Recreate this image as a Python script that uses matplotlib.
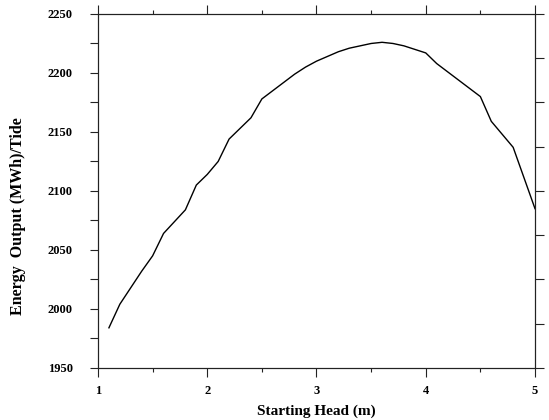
import numpy as np
import matplotlib.pyplot as plt
from matplotlib.ticker import MultipleLocator

# starting head (m) vs energy output per tide (MWh)
head = [1.1, 1.2, 1.3, 1.4, 1.5, 1.6, 1.7, 1.8, 1.9, 2.0,
        2.1, 2.2, 2.3, 2.4, 2.5, 2.6, 2.7, 2.8, 2.9, 3.0,
        3.1, 3.2, 3.3, 3.4, 3.5, 3.6, 3.7, 3.8, 3.9, 4.0,
        4.1, 4.2, 4.3, 4.4, 4.5, 4.6, 4.7, 4.8, 4.9, 5.0]
energy = [1984, 2004, 2018, 2032, 2045, 2064, 2074, 2084, 2105, 2114,
          2125, 2144, 2153, 2162, 2178, 2185, 2192, 2199, 2205, 2210,
          2214, 2218, 2221, 2223, 2225, 2226, 2225, 2223, 2220, 2217,
          2208, 2201, 2194, 2187, 2180, 2159, 2148, 2137, 2111, 2085]

plt.rcParams['font.family'] = 'Liberation Serif'
plt.rcParams['font.weight'] = 'bold'
plt.rcParams['axes.labelweight'] = 'bold'

fig = plt.figure(figsize=(5.49, 4.2), dpi=100)
ax = fig.add_axes([0.1785, 0.124, 0.796, 0.8427])

ax.plot(head, energy, color='black', lw=1.0)

ax.set_xlim(1, 5)
ax.set_ylim(1950, 2250)
ax.xaxis.set_major_locator(MultipleLocator(1))
ax.xaxis.set_minor_locator(MultipleLocator(0.5))
ax.yaxis.set_major_locator(MultipleLocator(50))
ax.yaxis.set_minor_locator(MultipleLocator(25))

ax.tick_params(which='both', direction='out', top=True, right=False,
               color='#222222', width=0.8, labelsize=9)
ax.tick_params(axis='x', which='major', length=6.5, pad=6)
ax.tick_params(axis='x', which='minor', length=3)
ax.tick_params(axis='y', which='major', length=6, pad=12)
ax.tick_params(axis='y', which='minor', length=6)

# right axis has its own tick spacing, no labels
ax2 = ax.twinx()
ax2.set_ylim(1950, 2250)
ax2.set_yticks(np.arange(1950, 2251, 37.5))
ax2.tick_params(direction='out', length=6.5, width=0.8, color='#222222', labelright=False)

for a in (ax, ax2):
    for s in a.spines.values():
        s.set_linewidth(0.8)
        s.set_color('#222222')

ax.set_xlabel('Starting Head (m)', fontsize=11, labelpad=5)
ax.set_ylabel('Energy  Output (MWh)/Tide', fontsize=11.5)
ax.yaxis.set_label_coords(-0.165, 0.43)

fig.savefig('out.png', dpi=100)
